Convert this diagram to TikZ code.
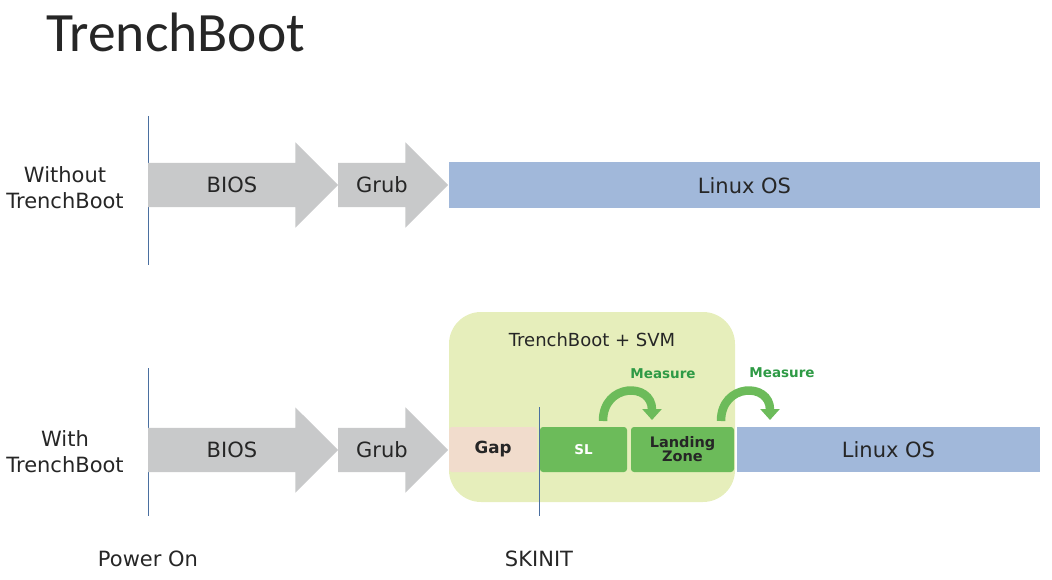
\documentclass[tikz,border=0pt]{standalone}
\usepackage{fontspec}
\setmainfont{DejaVu Sans}
\newfontfamily\titlefont{Carlito}
\usetikzlibrary{shapes,shapes.arrows,arrows.meta,positioning}

\definecolor{txtgray}{HTML}{262626}
\definecolor{arrgray}{HTML}{C8C9CA}
\definecolor{osblue}{HTML}{A1B8DA}
\definecolor{svmbg}{HTML}{E6EEBB}
\definecolor{gappeach}{HTML}{F1DCCC}
\definecolor{slgreen}{HTML}{6CBB5A}
\definecolor{measgreen}{HTML}{2E9A45}
\definecolor{lineblue}{HTML}{4A6FA0}

\begin{document}
\begin{tikzpicture}[x=1pt,y=-1pt,
      every node/.style={text=txtgray, inner sep=0pt, outer sep=0pt},
      stage/.style={single arrow, fill=arrgray, font=\fontsize{21}{25}\selectfont, text height=17.5pt, text depth=2.5pt, inner ysep=12pt, inner xsep=0pt, single arrow head extend=20.5pt, single arrow tip angle=90, single arrow head indent=0pt, anchor=tail},
      osbar/.style={rectangle, fill=osblue, font=\fontsize{21}{25}\selectfont, minimum height=46pt, anchor=west},
      block/.style={rectangle, rounded corners=3pt, minimum height=45pt, anchor=west, font=\bfseries\fontsize{14.5}{15}\selectfont},
      rowlabel/.style={align=center, font=\fontsize{21}{26}\selectfont},
      vline/.style={draw=lineblue, line width=0.8pt},
      meas/.style={draw=slgreen, line width=8.5pt, -{Triangle[length=11pt,width=19pt]}},
      measlabel/.style={text=measgreen, font=\bfseries\fontsize{13.5}{15}\selectfont}]
      \useasboundingbox (0,0) rectangle (1052,580);
      % title
      \node[anchor=base west, font=\titlefont\fontsize{55.5}{60}\selectfont] (title) at (46,52) {TrenchBoot};
      % without TrenchBoot
      \node[rowlabel] (lbl1) at (65,188) {Without\\TrenchBoot};
      \draw[vline] (148,116) -- (148,265);
      \node[stage, minimum height=190pt] (bios1) at (148,185) {BIOS};
      \node[stage, minimum height=110pt] (grub1) at (338,185) {Grub};
      \node[osbar, minimum width=591pt] (linux1) at (449,185.5) {Linux OS};
      % with TrenchBoot
      \node[rowlabel] (lbl2) at (65,452) {With\\TrenchBoot};
      \draw[vline] (148,368) -- (148,516);
      \node[stage, minimum height=190pt] (bios2) at (148,450) {BIOS};
      \node[stage, minimum height=110pt] (grub2) at (338,450) {Grub};
      \fill[svmbg, rounded corners=32pt] (449,312) rectangle (735,502);
      \node[font=\fontsize{18}{20}\selectfont] (svm) at (592,340) {TrenchBoot + SVM};
      \node[block, fill=gappeach, minimum width=88pt, font=\bfseries\fontsize{16.7}{18}\selectfont] (gap) at (449,449.5) {Gap};
      \node[block, fill=slgreen, minimum width=87pt, text=white, font=\bfseries\fontsize{13.5}{15}\selectfont] (sl) at (540,449.5) {SL};
      \node[block, fill=slgreen, minimum width=103pt, align=center] (lz) at (631,449.5) {Landing\\[-1pt]Zone};
      \node[osbar, minimum width=303pt, minimum height=45pt] (linux2) at (737,449.5) {Linux OS};
      \draw[vline] (539,407) -- (539,516);
      % measure arrows
      \draw[meas] ([xshift=19.5pt,yshift=6pt]sl.north) .. controls +(90:38pt) and +(90:38pt) .. ([xshift=-30.5pt,yshift=7pt]lz.north);
      \draw[meas] ([xshift=38.5pt,yshift=6pt]lz.north) .. controls +(90:38pt) and +(90:38pt) .. ([xshift=33pt,yshift=7pt]linux2.north west);
      \node[measlabel] (meas1) at (663,374) {Measure};
      \node[measlabel] (meas2) at (782,373) {Measure};
      % bottom labels
      \node[font=\fontsize{21}{25}\selectfont] (power) at (148,559) {Power On};
      \node[font=\fontsize{21}{25}\selectfont] (skinit) at (539,559) {SKINIT};
\end{tikzpicture}
\end{document}
